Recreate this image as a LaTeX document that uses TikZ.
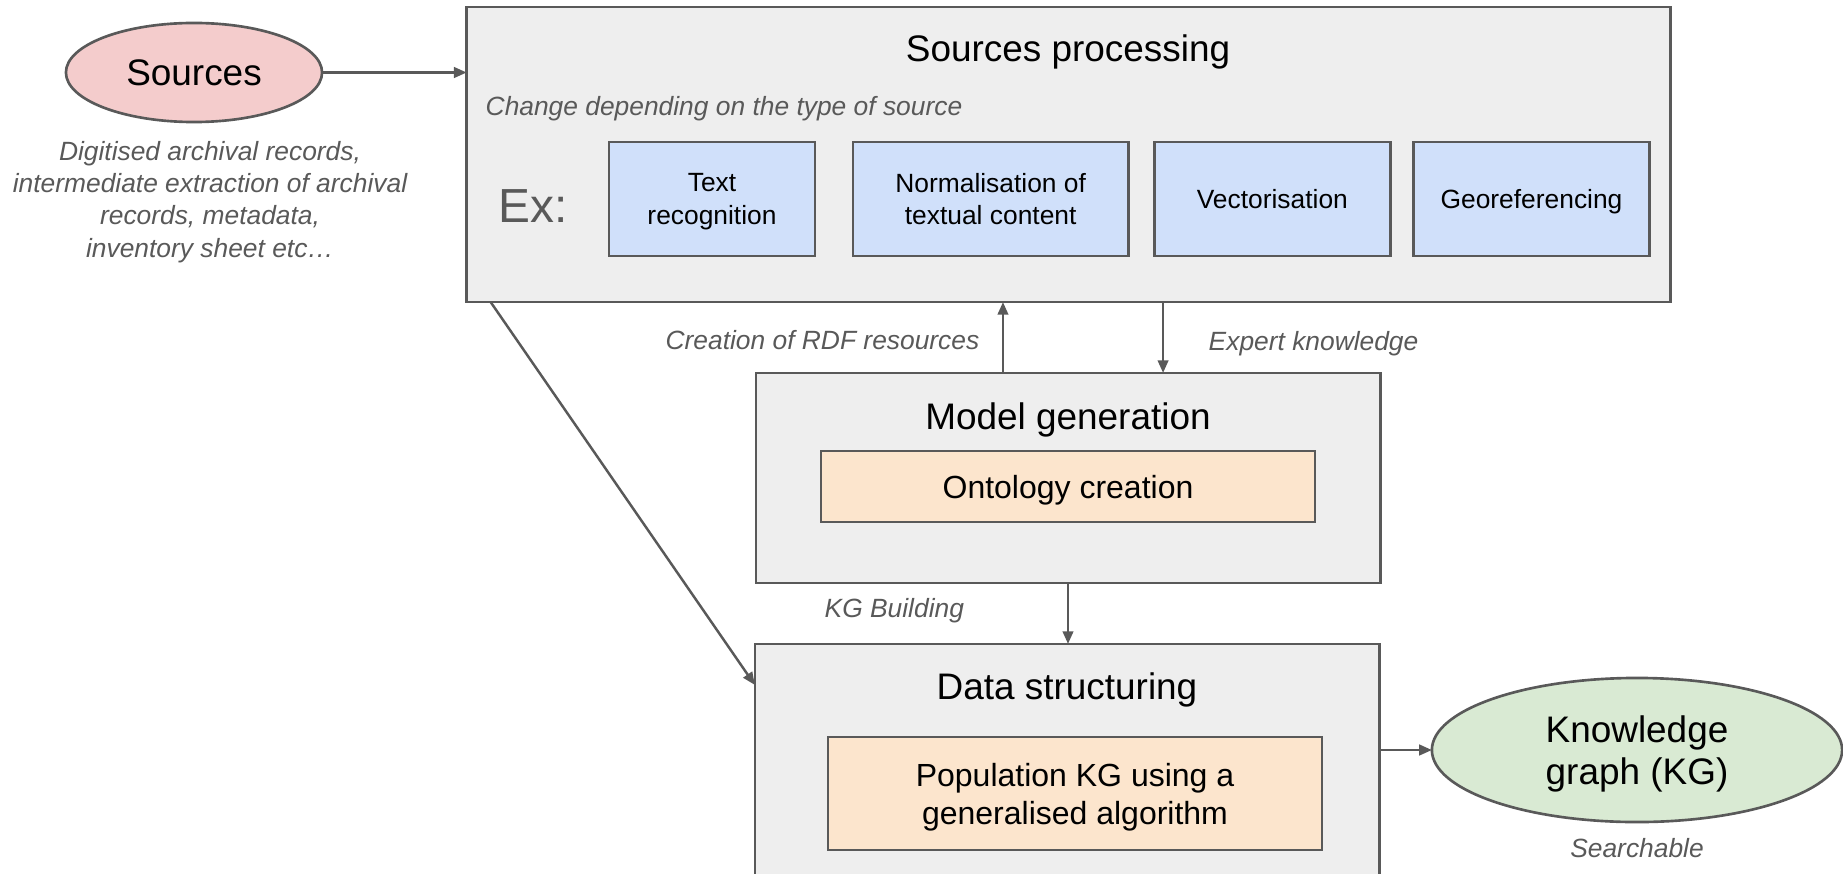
\documentclass[tikz,border=0pt]{standalone}
\usepackage{fontspec}
\setmainfont{Liberation Sans}
\usepackage{xcolor}
\definecolor{linegray}{HTML}{595959}
\definecolor{boxgray}{HTML}{EEEEEE}
\definecolor{srcpink}{HTML}{F4CCCC}
\definecolor{kggreen}{HTML}{D9EAD3}
\definecolor{exblue}{HTML}{D0E0FA}
\definecolor{taskorange}{HTML}{FCE5CD}
\usepackage{tikz}
\usetikzlibrary{positioning, arrows.meta, shapes.geometric}

\newcommand{\fontTitle}{\fontsize{10.5pt}{11.8pt}\selectfont}
\newcommand{\fontTask}{\fontsize{9.1pt}{10.8pt}\selectfont}
\newcommand{\fontNote}{\fontsize{7.5pt}{9.2pt}\selectfont}

\begin{document}
\begin{tikzpicture}
[->,
 >={Triangle[length=3.6pt,width=3pt]},
 x=0.01cm, y=-0.01cm,
 every edge/.style={draw=linegray, line width=0.7pt},
 stage/.style={rectangle, draw=linegray, fill=boxgray, line width=0.75pt,
   inner sep=0pt, outer sep=0pt},
 example/.style={rectangle, draw=linegray, fill=exblue, line width=0.75pt,
   inner sep=0pt, outer sep=0pt, minimum height=1.14cm, text depth=0pt,
   align=center, font=\fontNote},
 task/.style={rectangle, draw=linegray, fill=taskorange, line width=0.75pt,
   inner sep=0pt, outer sep=0pt, minimum width=4.94cm, text depth=0pt,
   align=center, font=\fontTask},
 blob/.style={ellipse, draw=linegray, line width=0.75pt, inner sep=0pt, outer sep=0pt,
   text depth=0pt, align=center, font=\fontTitle},
 title/.style={font=\fontTitle, inner sep=0pt, anchor=base},
 note/.style={font=\fontNote\itshape, text=linegray, align=center, inner sep=0pt},
]

\useasboundingbox (0,0) rectangle (1843,873);

\node[blob, fill=srcpink, minimum width=2.56cm, minimum height=0.99cm] (src) at (194,72.5) {Sources};
\node[note] (srcnote) at (210,202) {Digitised archival records,\\intermediate extraction of archival\\records, metadata,\\inventory sheet etc\ldots};

\node[stage, minimum width=12.03cm, minimum height=2.95cm] (sp) at (1068.5,154.5) {};
\node[title] (sptitle) at (1068,62) {Sources processing};
\node[note, anchor=base west] (change) at (485,116) {Change depending on the type of source};
\node[font=\fontsize{13.6pt}{15pt}\selectfont, text=linegray, inner sep=0pt] (ex) at (533,206) {Ex:};
\node[example, minimum width=2.06cm] (txt) at (712,199) {Text\\recognition};
\node[example, minimum width=2.75cm, right=0.38cm of txt] (norm) {Normalisation of\\textual content};
\node[example, minimum width=2.36cm, right=0.26cm of norm] (vect) {Vectorisation};
\node[example, minimum width=2.36cm, right=0.23cm of vect] (geo) {Georeferencing};

\node[stage, minimum width=6.24cm, minimum height=2.10cm] (mg) at (1068,478) {};
\node[title] (mgtitle) at (1068,429) {Model generation};
\node[task, minimum height=0.71cm] (onto) at (1068,486.5) {Ontology creation};

\node[stage, minimum width=6.24cm, minimum height=2.60cm] (ds) at (1067,774) {};
\node[title] (dstitle) at (1067,699) {Data structuring};
\node[task, minimum height=1.13cm] (pop) at (1075,793.5) {Population KG using a\\generalised algorithm};

\node[blob, fill=kggreen, minimum width=4.10cm, minimum height=1.44cm] (kg) at (1637,750) {Knowledge\\graph (KG)};
\node[note] (search) at (1637,848) {Searchable};

\node[note, anchor=base east] (rdf) at (980,349) {Creation of RDF resources};
\node[note, anchor=base west] (expert) at (1208,350) {Expert knowledge};
\node[note, anchor=base west] (kgb) at (824,617) {KG Building};

\path
(src.east) edge (src.east -| sp.west)
([xshift=-0.65cm]mg.north) edge ([xshift=-0.65cm]mg.north |- sp.south)
([xshift=0.95cm]mg.north |- sp.south) edge ([xshift=0.95cm]mg.north)
(mg.south) edge (mg.south |- ds.north)
([xshift=0.24cm]sp.south west) edge ([yshift=-0.41cm]ds.north west)
(ds.east |- kg.west) edge (kg.west);
\end{tikzpicture}
\end{document}
